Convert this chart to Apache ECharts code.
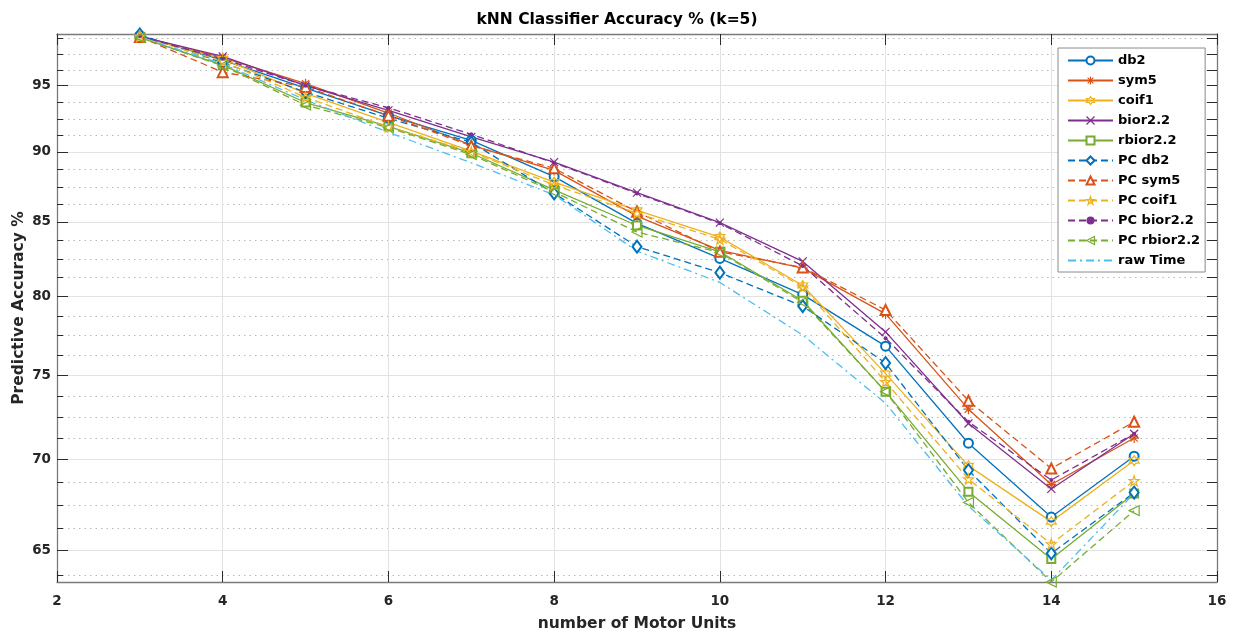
<!DOCTYPE html>
<html><head><meta charset="utf-8">
<script src="https://cdn.jsdelivr.net/npm/echarts@6/dist/echarts.min.js"></script>
<style>html,body{margin:0;padding:0;background:#fff}#chart{width:1234px;height:635px}</style>
</head><body><div id="chart"></div>
<script>
// ---- data ----
const motorUnits = [3, 4, 5, 6, 7, 8, 9, 10, 11, 12, 13, 14, 15];
const db2       = [98.95, 97.0, 94.8, 92.7, 90.85, 88.2, 84.9, 82.5, 80.1, 76.8, 70.95, 66.8, 70.2];
const sym5      = [98.9, 97.2, 95.15, 92.9, 90.5, 88.65, 85.4, 83.05, 81.85, 78.85, 72.95, 68.6, 71.25];
const coif1     = [98.9, 97.1, 94.4, 92.2, 90.05, 87.8, 85.8, 83.95, 80.7, 75.1, 69.65, 66.55, 69.95];
const bior22    = [98.9, 97.3, 95.0, 93.1, 91.1, 89.25, 87.05, 84.95, 82.3, 77.7, 72.1, 68.35, 71.5];
const rbior22   = [98.8, 96.6, 93.7, 91.9, 89.9, 87.25, 84.75, 82.95, 79.7, 74.0, 68.2, 64.55, 68.1];
const pcDb2     = [99.05, 96.8, 94.5, 92.5, 90.7, 87.0, 83.3, 81.55, 79.35, 75.75, 69.4, 64.85, 68.15];
const pcSym5    = [98.85, 96.05, 94.9, 92.7, 90.45, 88.8, 85.7, 82.95, 81.9, 79.1, 73.45, 69.5, 72.2];
const pcCoif1   = [98.9, 96.9, 94.1, 91.85, 90.0, 87.6, 85.6, 83.8, 80.6, 74.6, 68.9, 65.35, 68.8];
const pcBior22  = [98.9, 97.1, 95.0, 93.3, 91.3, 89.2, 87.0, 84.9, 82.0, 77.3, 72.2, 68.85, 71.5];
const pcRbior22 = [98.8, 96.55, 93.5, 91.8, 89.8, 87.1, 84.3, 82.9, 79.6, 74.0, 67.6, 63.35, 67.15];
const rawTime   = [98.85, 96.7, 93.9, 91.45, 89.2, 86.9, 83.0, 80.9, 77.5, 73.3, 67.4, 63.45, 68.1];

const seriesNames = ['db2','sym5','coif1','bior2.2','rbior2.2','PC db2','PC sym5','PC coif1','PC bior2.2','PC rbior2.2','raw Time'];
const xTickValues = [2, 4, 6, 8, 10, 12, 14, 16];
const yTickValues = [65, 70, 75, 80, 85, 90, 95];
const yBounds = [60, 65, 70, 75, 80, 85, 90, 95, 100];
const yMin = 63.35, yMax = 99.09;

// ---- styling ----
const FONT = 'DejaVu Sans';
const C = ['#0072BD', '#D95319', '#EDB120', '#7E2F8E', '#77AC30', '#4DBEEE'];
const AX = '#7a7a7a', TICK = '#2b2b2b', TXT = '#262626';

// minor grid positions: quarter steps in log space between majors
const yMinor = [];
for (let i = 0; i < yBounds.length - 1; i++) {
  const a = Math.log(yBounds[i]), b = Math.log(yBounds[i + 1]);
  for (let k = 1; k < 4; k++) {
    const v = Math.exp(a + (b - a) * k / 4);
    if (v > yMin && v < yMax) yMinor.push(v);
  }
}

const SYM = {
  asterisk: 'path://M0,-1L0,1M-1,0L1,0M-0.72,-0.72L0.72,0.72M-0.72,0.72L0.72,-0.72',
  cross: 'path://M-1,-1L1,1M-1,1L1,-1',
  hexagram: 'path://M0,-1L0.2887,-0.5L0.866,-0.5L0.577,0L0.866,0.5L0.2887,0.5L0,1L-0.2887,0.5L-0.866,0.5L-0.577,0L-0.866,-0.5L-0.2887,-0.5Z',
  pentagram: 'path://M0,-1L0.2245,-0.309L0.951,-0.309L0.3633,0.118L0.5878,0.809L0,0.382L-0.5878,0.809L-0.3633,0.118L-0.951,-0.309L-0.2245,-0.309Z',
  leftTri: 'path://M-1,0L1,-1L1,1Z'
};

function pairs(ys) { return motorUnits.map((x, i) => [x, ys[i]]); }

function mk(name, ys, color, symbol, size, dash, hollowPath) {
  return {
    name, type: 'line', data: pairs(ys), xAxisIndex: 0, yAxisIndex: 0,
    symbol, symbolSize: size, showSymbol: symbol !== 'none',
    lineStyle: { color, width: 1.3, type: dash },
    itemStyle: hollowPath
      ? { color: 'rgba(255,255,255,0)', borderColor: color, borderWidth: 1.2 }
      : { color, borderWidth: 1.2 },
    emphasis: { disabled: true }, animation: false, clip: false
  };
}
const DASH = [7, 4], DASHDOT = [8, 4, 2, 4];

const series = [
  mk('db2', db2, C[0], 'emptyCircle', 9, 'solid', false),
  mk('sym5', sym5, C[1], SYM.asterisk, 10, 'solid', true),
  mk('coif1', coif1, C[2], SYM.hexagram, 10, 'solid', true),
  mk('bior2.2', bior22, C[3], SYM.cross, 8, 'solid', true),
  mk('rbior2.2', rbior22, C[4], 'emptyRect', 8, 'solid', false),
  mk('PC db2', pcDb2, C[0], 'emptyDiamond', [9, 12], DASH, false),
  mk('PC sym5', pcSym5, C[1], 'emptyTriangle', 10, DASH, false),
  mk('PC coif1', pcCoif1, C[2], SYM.pentagram, 10, DASH, true),
  mk('PC bior2.2', pcBior22, C[3], 'circle', 4, DASH, false),
  mk('PC rbior2.2', pcRbior22, C[4], SYM.leftTri, 10, DASH, true),
  mk('raw Time', rawTime, C[5], 'none', 0, DASHDOT, false)
];

const legendData = seriesNames.map(n => n === 'raw Time'
  ? { name: n, itemStyle: { color: 'rgba(0,0,0,0)', borderColor: 'rgba(0,0,0,0)', borderWidth: 0 } }
  : { name: n });

function yAxis(pos, values, tickLen, opts) {
  return Object.assign({
    type: 'log', logBase: 10, min: yMin, max: yMax, position: pos, offset: 0,
    axisLine: { show: false },
    axisTick: { show: true, inside: true, length: tickLen, customValues: values, lineStyle: { color: TICK, width: 1 } },
    axisLabel: { show: false },
    splitLine: { show: false },
    minorTick: { show: false }, minorSplitLine: { show: false }
  }, opts || {});
}

const option = {
  backgroundColor: '#fff',
  animation: false,
  title: {
    text: 'kNN Classifier Accuracy % (k=5)', left: 'center', top: 7,
    textStyle: { fontFamily: FONT, fontWeight: 'bold', fontSize: 15.5, color: '#000' }
  },
  grid: { left: 57, right: 17, top: 34, bottom: 53, containLabel: false, outerBoundsMode: 'none' },
  legend: {
    data: legendData, orient: 'vertical', left: 1058, top: 48,
    padding: [6, 5, 5, 9], itemWidth: 45, itemHeight: 10, itemGap: 7,
    borderColor: '#8a8a8a', borderWidth: 1, backgroundColor: '#fff',
    selectedMode: false,
    itemStyle: { borderWidth: 1.2 },
    textStyle: { fontFamily: FONT, fontWeight: 'bold', fontSize: 13, color: '#000' }
  },
  xAxis: [
    {
      type: 'value', min: 2, max: 16, interval: 2, position: 'bottom',
      name: 'number of Motor Units', nameLocation: 'middle', nameGap: 34, nameMoveOverlap: false,
      nameTextStyle: { fontFamily: FONT, fontWeight: 'bold', fontSize: 15.5, color: TXT },
      axisLine: { show: true, onZero: false, lineStyle: { color: AX, width: 1.3 } },
      axisTick: { show: true, inside: true, length: 11, lineStyle: { color: TICK } },
      axisLabel: { margin: 12, fontFamily: FONT, fontWeight: 'bold', fontSize: 13.5, color: TXT, customValues: xTickValues },
      splitLine: { show: true, lineStyle: { color: '#e2e2e2', width: 1 } }
    },
    {
      type: 'value', min: 2, max: 16, interval: 2, position: 'top',
      axisLine: { show: true, onZero: false, lineStyle: { color: AX, width: 1.3 } },
      axisTick: { show: true, inside: true, length: 11, lineStyle: { color: TICK } },
      axisLabel: { show: false }, splitLine: { show: false }
    }
  ],
  yAxis: [
    yAxis('left', yTickValues, 11, {
      name: 'Predictive Accuracy %', nameLocation: 'middle', nameRotate: 90, nameGap: 30, nameMoveOverlap: false,
      nameTextStyle: { fontFamily: FONT, fontWeight: 'bold', fontSize: 15.5, color: TXT },
      axisLine: { show: true, onZero: false, lineStyle: { color: AX, width: 1.3 } },
      axisLabel: { show: true, customValues: yTickValues, margin: 6, formatter: v => String(Math.round(v)),
        fontFamily: FONT, fontWeight: 'bold', fontSize: 13.5, color: TXT },
      splitLine: { show: true, lineStyle: { color: '#e2e2e2', width: 1 } }
    }),
    yAxis('left', yMinor, 6, {
      splitLine: { show: true, lineStyle: { color: '#b8b8b8', width: 1, type: [1.5, 4] } }
    }),
    yAxis('right', yTickValues, 10, {
      axisLine: { show: true, onZero: false, lineStyle: { color: AX, width: 1.3 } }
    }),
    yAxis('right', yMinor, 10)
  ],
  series
};

const chart = echarts.init(document.getElementById('chart'), null, { renderer: 'canvas' });
chart.setOption(option);
</script>
</body></html>
